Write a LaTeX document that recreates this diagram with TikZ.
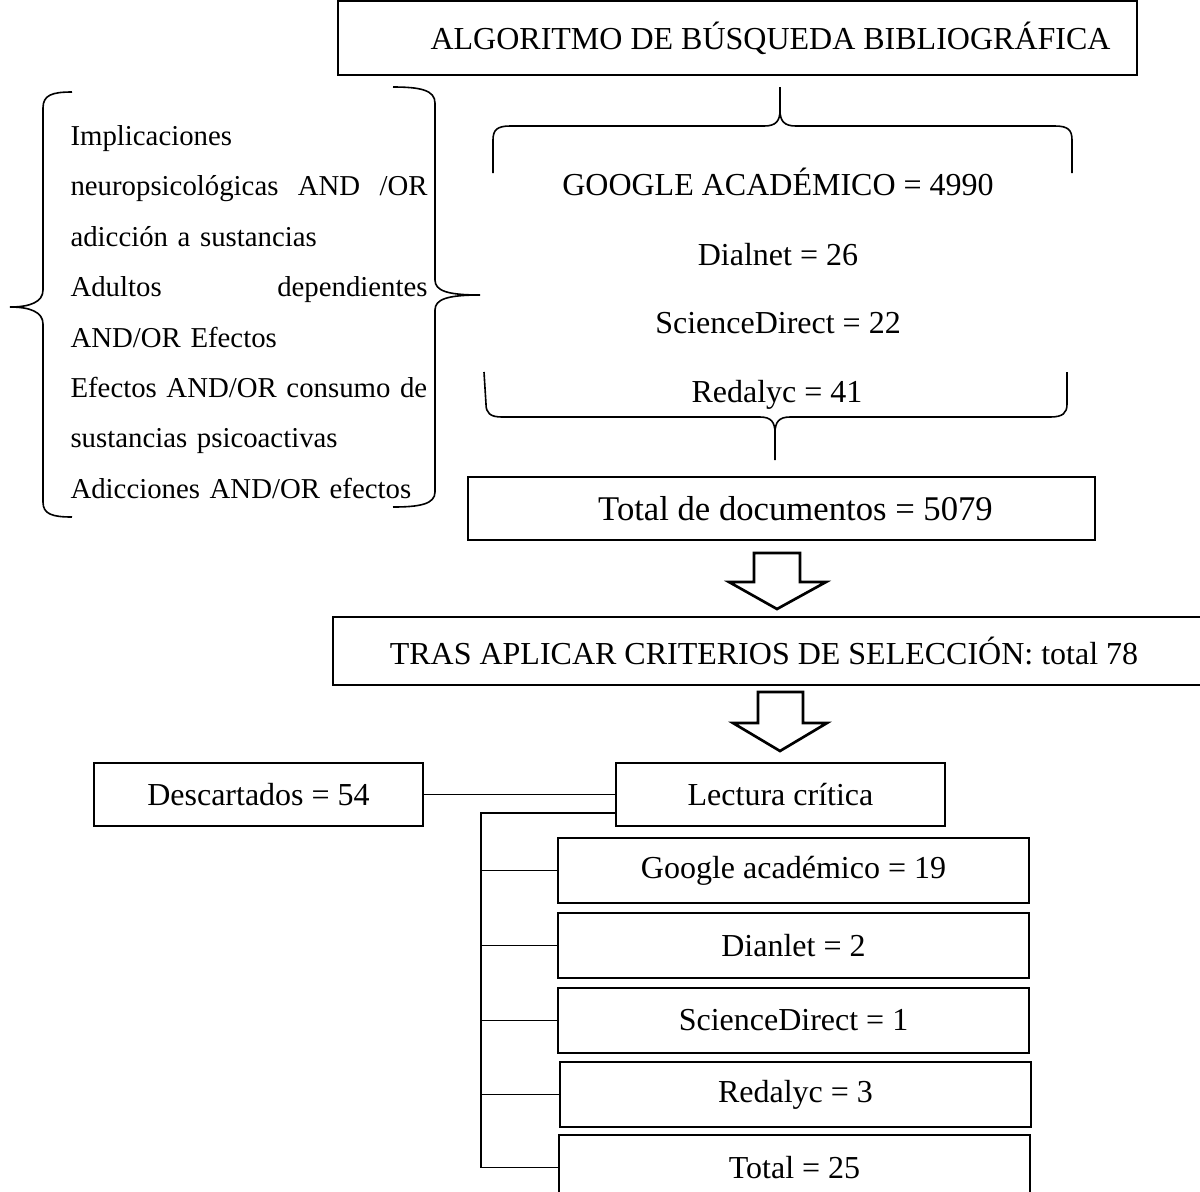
\documentclass[tikz,border=0pt]{standalone}
\usepackage{fontspec}
\setmainfont{Liberation Serif}

\begin{document}
\begin{tikzpicture}[x=0.375pt,y=-0.375pt,
    every node/.style={font=\fontsize{12}{19}\selectfont},
    box/.style={draw,line width=0.6pt,inner sep=0pt},
    small/.style={font=\fontsize{10.8}{18.9}\selectfont},
    hollow/.style={line width=1pt,line join=miter}]
\useasboundingbox (0,0) rectangle (1200,1191);

% title and search terms
\node[box,minimum width=299.6pt,minimum height=27.75pt] (algo) at (737.5,38) {\hspace*{24.8pt}ALGORITMO DE BÚSQUEDA BIBLIOGRÁFICA};
\node[small,anchor=north west,inner sep=0pt,text width=133.9pt,align=left] (terms) at (70,125)
    {Implicaciones\\ neuropsicológicas\hfill AND\hfill /OR\\ adicción a sustancias\\
     Adultos\hfill dependientes\\ AND/OR Efectos\\ \mbox{Efectos AND/OR consumo de}\\
     sustancias psicoactivas\\ \mbox{Adicciones AND/OR efectos}};

% braces round the terms
\draw[line width=0.6pt] (72,92) .. controls (52,92) and (43,95) .. (43,108) -- (43,290)
    .. controls (43,302) and (30,307) .. (10,307) .. controls (30,307) and (43,312) .. (43,324)
    -- (43,502) .. controls (43,514) and (52,517) .. (72,517);
\draw[line width=0.6pt] (393,87) .. controls (420,87) and (435,90) .. (435,103) -- (435,280)
    .. controls (435,291) and (448,295) .. (480,295) .. controls (448,295) and (435,299) .. (435,310)
    -- (435,492) .. controls (435,504) and (420,507) .. (393,507);

% databases
\node[anchor=base] (gacad) at (778,195) {GOOGLE ACADÉMICO = 4990};
\node[anchor=base] (dial) at (778,265) {Dialnet = 26};
\node[anchor=base] (scid) at (778,333) {ScienceDirect = 22};
\node[anchor=base] (reda) at (777,402) {Redalyc = 41};

\draw[line width=0.6pt] (493,173) -- (493,140) .. controls (493,130) and (497,126) .. (510,126)
    -- (764,126) .. controls (776,126) and (780,121) .. (780,110) -- (780,87);
\draw[line width=0.6pt] (780,110) .. controls (780,121) and (784,126) .. (796,126)
    -- (1055,126) .. controls (1068,126) and (1072,130) .. (1072,140) -- (1072,173);
\draw[line width=0.6pt] (484,372) -- (486,404) .. controls (486,413) and (490,417) .. (502,417)
    -- (760,417) .. controls (771,417) and (775,422) .. (775,433) -- (775,460);
\draw[line width=0.6pt] (775,433) .. controls (775,422) and (779,417) .. (790,417)
    -- (1050,417) .. controls (1063,417) and (1067,413) .. (1067,404) -- (1067,372);

% totals
\node[box,minimum width=235.1pt,minimum height=23.6pt,font=\fontsize{13}{19}\selectfont] (total) at (781.5,508.5) {\hspace*{10.5pt}Total de documentos = 5079};
\draw[hollow] (754,553) -- (800,553) -- (800,582) -- (826,582) -- (777,609) -- (729,582) -- (754,582) -- cycle;
\node[box,minimum width=328.5pt,minimum height=25.5pt] (tras) at (771,651) {TRAS APLICAR CRITERIOS DE SELECCIÓN: total 78\hspace*{5.25pt}};
\draw[hollow] (758,692) -- (803,692) -- (803,723) -- (827,723) -- (780,751) -- (733,723) -- (758,723) -- cycle;

% critical reading
\node[box,minimum width=123.4pt,minimum height=23.6pt] (desc) at (258.5,794.5) {Descartados = 54};
\node[box,minimum width=123.4pt,minimum height=23.6pt] (lect) at (780.5,794.5) {Lectura crítica};
\draw[line width=0.6pt] (desc) -- (lect);

\node[box,minimum width=176.6pt,minimum height=24.4pt] (gfin) at (793.5,870.5) {Google académico = 19};
\node[box,minimum width=176.6pt,minimum height=24.4pt] (dfin) at (793.5,945.5) {Dianlet = 2};
\node[box,minimum width=176.6pt,minimum height=24.4pt] (sfin) at (793.5,1020.5) {ScienceDirect = 1};
\node[box,minimum width=176.6pt,minimum height=24.4pt] (rfin) at (795.5,1094.5) {Redalyc = 3};
\node[box,minimum width=176.6pt,minimum height=24.4pt] (tfin) at (794.5,1167.5) {Total = 25};

\coordinate (brk) at (481,813);
\draw[line width=0.6pt] (brk -| lect.west) -- (brk) -- (brk |- tfin.west) -- (tfin.west);
\foreach \n in {gfin,dfin,sfin,rfin}
    \draw[line width=0.6pt] (brk |- \n.west) -- (\n.west);
\end{tikzpicture}
\end{document}
